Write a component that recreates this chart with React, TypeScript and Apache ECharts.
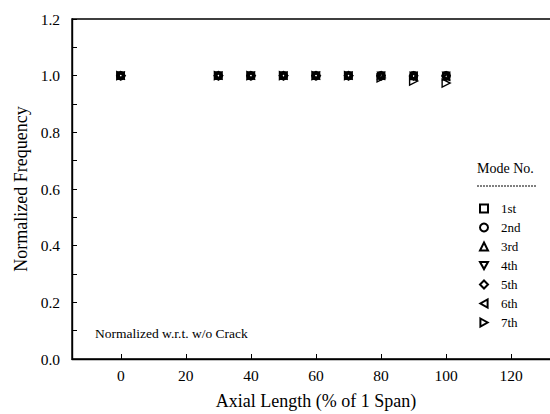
import React, { useEffect, useRef } from "react";
import * as echarts from "echarts";

const positions = [0, 30, 40, 50, 60, 70, 80, 90, 100];
const mode1 = [1.0, 1.0, 1.0, 1.0, 1.0, 1.0, 1.0, 1.0, 1.0];
const mode2 = [1.0, 1.0, 1.0, 1.0, 1.0, 1.0, 1.0, 1.0, 1.0];
const mode3 = [1.0, 1.0, 1.0, 1.0, 1.0, 1.0, 1.0, 0.999, 0.998];
const mode4 = [1.0, 1.0, 1.0, 1.0, 1.0, 1.0, 1.0, 1.0, 1.0];
const mode5 = [1.0, 1.0, 1.0, 1.0, 1.0, 1.0, 1.0, 1.0, 1.0];
const mode6 = [1.0, 1.0, 1.0, 1.0, 1.0, 1.0, 0.999, 0.998, 0.996];
const mode7 = [1.0, 1.0, 1.0, 1.0, 1.0, 1.0, 0.992, 0.981, 0.974];

const modeNames = ["1st", "2nd", "3rd", "4th", "5th", "6th", "7th"];
const modeValues = [mode1, mode2, mode3, mode4, mode5, mode6, mode7];
const modeSymbols = [
  "rect",
  "circle",
  "triangle",
  "path://M0,0L10,0L5,9Z",
  "diamond",
  "path://M9,0L9,10L0,5Z",
  "path://M0,0L9,5L0,10Z",
];
const xTicks = [0, 20, 40, 60, 80, 100, 120];

const FONT = "'Liberation Serif', 'DejaVu Serif', serif";

export default function App() {
  const ref = useRef<HTMLDivElement>(null);
  useEffect(() => {
    if (!ref.current) return;
    const chart = echarts.init(ref.current, undefined, { renderer: "svg" });
    const sizes = [5, 8, 7, 7, 8, 7, 8];
    const series = modeNames.map((name, i) => ({
      name,
      type: "scatter",
      symbol: modeSymbols[i],
      symbolSize: sizes[i],
      data: positions.map((x, j) => [x, modeValues[i][j]]),
      itemStyle: { color: "rgba(255,255,255,0)", borderColor: "#000000", borderWidth: 1.4, opacity: 1 },
      z: 2 + i,
    }));
    chart.setOption({
      animation: false,
      backgroundColor: "#ffffff",
      textStyle: { fontFamily: FONT, color: "#000" },
      grid: {
        left: 72,
        top: 19,
        height: 340,
        width: 488,
        containLabel: false,
        outerBoundsMode: "none",
        show: true,
        borderColor: "#000",
        borderWidth: 1.4,
        backgroundColor: "transparent",
      },
      xAxis: {
        type: "value",
        min: -15,
        max: 135,
        name: "Axial Length (% of 1 Span)",
        nameLocation: "middle",
        nameGap: 33,
        nameTextStyle: { fontFamily: FONT, fontSize: 18, color: "#000" },
        axisLine: { show: true, onZero: false, lineStyle: { color: "#000", width: 1.4 } },
        axisTick: { show: true, inside: true, length: 5, customValues: xTicks, lineStyle: { color: "#000" } },
        axisLabel: {
          show: true,
          customValues: xTicks,
          fontFamily: FONT,
          fontSize: 15.5,
          color: "#000",
          margin: 8,
        },
        splitLine: { show: false },
      },
      yAxis: {
        type: "value",
        min: 0,
        max: 1.2,
        interval: 0.2,
        name: "Normalized Frequency",
        nameLocation: "middle",
        nameGap: 38,
        nameTextStyle: { fontFamily: FONT, fontSize: 18, color: "#000" },
        axisLine: { show: true, onZero: false, lineStyle: { color: "#000", width: 1.4 } },
        axisTick: { show: true, inside: true, length: 5, lineStyle: { color: "#000" } },
        minorTick: { show: true, splitNumber: 2, length: 5, lineStyle: { color: "#000" } },
        axisLabel: {
          fontFamily: FONT,
          fontSize: 15.5,
          color: "#000",
          margin: 12,
          formatter: (v: number) => v.toFixed(1),
        },
        splitLine: { show: false },
      },
      legend: {
        orient: "vertical",
        left: 479,
        top: 202,
        itemWidth: 8,
        itemHeight: 8,
        itemGap: 6,
        padding: 0,
        data: modeNames,
        textStyle: { fontFamily: FONT, fontSize: 13, color: "#000", padding: [0, 0, 0, 8] },
        selectedMode: false,
      },
      graphic: [
        {
          type: "text",
          left: 477,
          top: 161,
          style: { text: "Mode No.", fontFamily: FONT, fontSize: 14, fill: "#000" },
        },
        {
          type: "line",
          shape: { x1: 477, y1: 186, x2: 536, y2: 186 },
          style: { stroke: "#000", lineWidth: 1, lineDash: [2, 1] },
        },
        {
          type: "text",
          left: 95,
          top: 326,
          style: { text: "Normalized w.r.t. w/o Crack", fontFamily: FONT, fontSize: 13.5, fill: "#000" },
        },
      ],
      series,
    });
    return () => chart.dispose();
  }, []);
  return (
    <div style={{ position: "absolute", left: 0, top: 0, width: 550, height: 414, overflow: "hidden" }}>
      <div ref={ref} style={{ width: 550, height: 414 }} />
    </div>
  );
}
